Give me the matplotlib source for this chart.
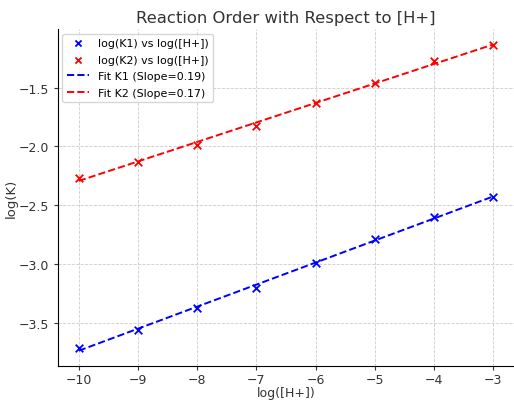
import matplotlib.pyplot as plt
import numpy as np

log_h = [-10, -9, -8, -7, -6, -5, -4, -3]
log_k1 = [-3.71, -3.56, -3.375, -3.20, -2.99, -2.785, -2.60, -2.43]
log_k2 = [-2.265, -2.13, -1.985, -1.825, -1.63, -1.46, -1.275, -1.14]

fit1 = np.polyfit(log_h, log_k1, 1)
fit2 = np.polyfit(log_h, log_k2, 1)
xs = np.array(log_h, dtype=float)

plt.rcParams["font.family"] = "DejaVu Sans"
fig = plt.figure(figsize=(5.14, 4.02), dpi=100)
ax = fig.add_axes([0.113, 0.087, 0.887, 0.838])

ax.scatter(log_h, log_k1, marker="x", color="blue", s=30, linewidths=1.3,
           label="log(K1) vs log([H+])", zorder=3)
ax.scatter(log_h, log_k2, marker="x", color="red", s=30, linewidths=1.3,
           label="log(K2) vs log([H+])", zorder=3)
ax.plot(xs, np.polyval(fit1, xs), "--", color="blue", lw=1.4, label="Fit K1 (Slope=0.19)")
ax.plot(xs, np.polyval(fit2, xs), "--", color="red", lw=1.4, label="Fit K2 (Slope=0.17)")

ax.set_title("Reaction Order with Respect to [H+]", fontsize=11.8, color="#333333", pad=5)
ax.set_xlabel("log([H+])", fontsize=9, color="#333333")
ax.xaxis.set_label_coords(0.5, -0.058)
ax.set_ylabel("log(K)", fontsize=9.5, color="#333333", labelpad=1)
ax.tick_params(labelsize=9, colors="#333333", length=3)
ax.tick_params(axis="x", pad=2)
ax.grid(True, linestyle="--", color="#cccccc", linewidth=0.6)
ax.spines["top"].set_visible(False)
ax.spines["right"].set_visible(False)
ax.legend(loc="upper left", fontsize=7.9, handlelength=2, labelspacing=0.6,
          markerscale=0.8, borderaxespad=0.4)

plt.savefig("out.png", dpi=100)
